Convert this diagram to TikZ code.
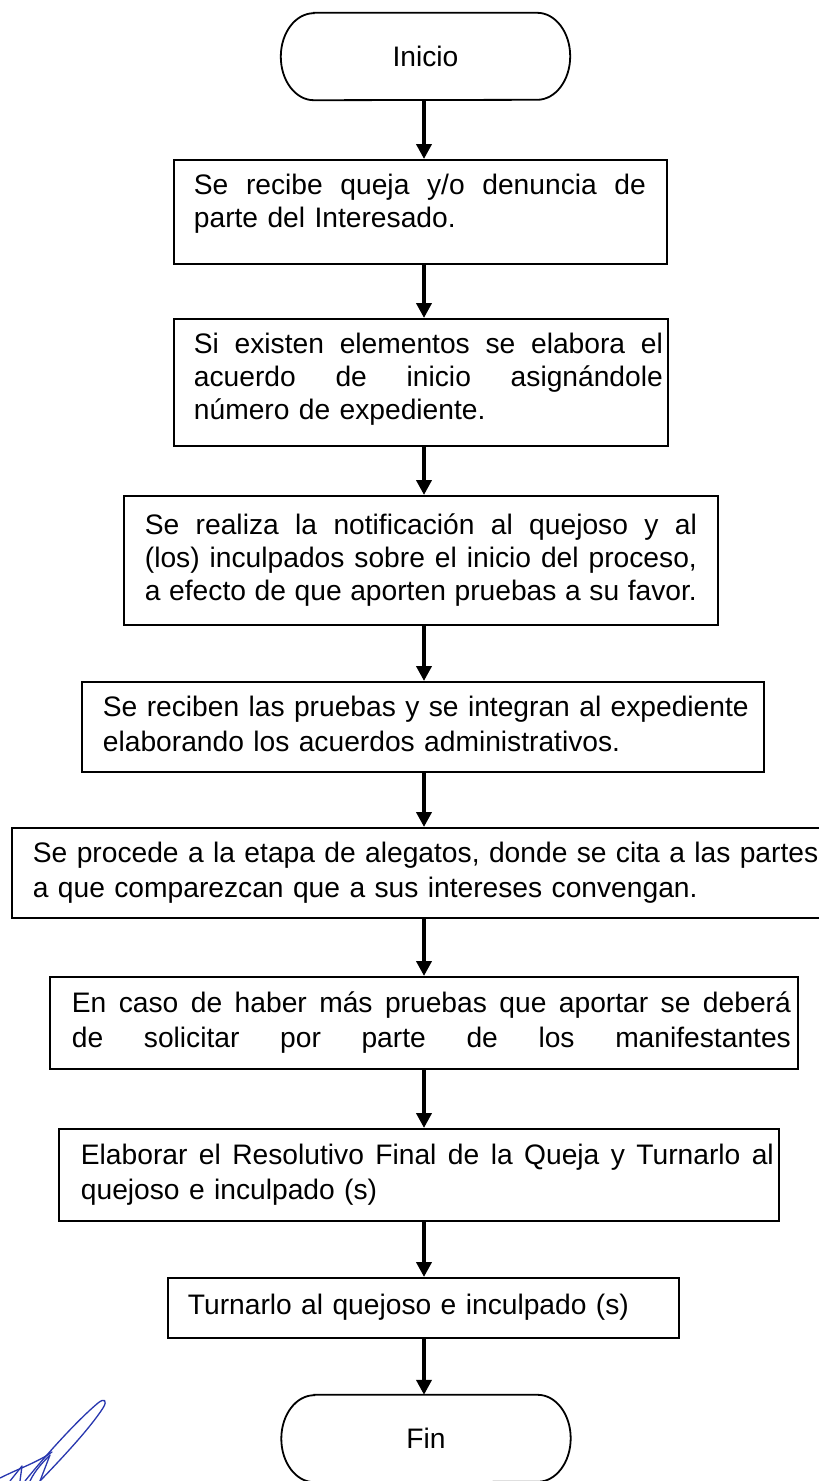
\documentclass[tikz,border=0pt]{standalone}
\usepackage{fontspec}
\setmainfont{Liberation Sans}
\usetikzlibrary{arrows.meta}
\definecolor{inkblue}{RGB}{40,55,175}
\tikzset{
  box/.style={draw, line width=1.8pt, anchor=north west, inner xsep=0pt, inner ysep=0pt,
    align=left, font=\fontsize{28.2pt}{33pt}\selectfont},
  boxw/.style={box, font=\fontsize{28.2pt}{35pt}\selectfont},
  termnode/.style={minimum width=289pt, minimum height=87pt, inner sep=0pt,
    font=\fontsize{28.2pt}{33pt}\selectfont},
  termline/.style={line width=1.8pt},
  arr/.style={line width=4.5pt, -{Triangle[length=15pt,width=15pt]}},
  sig/.style={inkblue, line width=1.3pt, line cap=round, line join=round}
}
% justified line of a given width (words separated by \hfill)
\newcommand\jl[2]{\leavevmode\hbox to #1{\strut#2}}
% natural line
\newcommand\nl[1]{\mbox{\strut#1}}
\newcommand\termoutline[1]{%
  \draw[termline] ([xshift=33pt]#1.north west) -- ([xshift=-33pt]#1.north east)
    arc[start angle=90, end angle=-90, x radius=33pt, y radius=43.5pt]
    -- ([xshift=33pt]#1.south west)
    arc[start angle=270, end angle=90, x radius=33pt, y radius=43.5pt] -- cycle;}
\begin{document}
\begin{tikzpicture}[x=1pt, y=-1pt]
\useasboundingbox (0,0) rectangle (819,1481);
\fill[white] (0,0) rectangle (819,1481);

\node[termnode] (inicio) at (425.5,56.5) {Inicio};
\termoutline{inicio}

\node[box, minimum width=493pt, minimum height=104pt, text width=453pt] (b1) at (173,159)
  {\jl{452pt}{Se\hfill recibe\hfill queja\hfill y/o\hfill denuncia\hfill de}\\
   \nl{parte del Interesado.\rule[-24pt]{0pt}{24pt}}};

\node[box, minimum width=494pt, minimum height=127pt, text width=454pt] (b2) at (173,318)
  {\jl{469pt}{Si\hfill existen\hfill elementos\hfill se\hfill elabora\hfill el}\\
   \jl{469pt}{acuerdo\hfill de\hfill inicio\hfill asignándole}\\
   \nl{número de expediente.\rule[-15pt]{0pt}{15pt}}};

\node[box, minimum width=594pt, minimum height=129pt, text width=552pt] (b3) at (123,495)
  {\jl{552pt}{Se\hfill realiza\hfill la\hfill notificación\hfill al\hfill quejoso\hfill y\hfill al}\\
   \jl{552pt}{(los)\hfill inculpados\hfill sobre\hfill el\hfill inicio\hfill del\hfill proceso,}\\
   \jl{552pt}{a\hfill efecto\hfill de\hfill que\hfill aporten\hfill pruebas\hfill a\hfill su\hfill favor.}};

\node[boxw, minimum width=682pt, minimum height=90pt, text width=640pt] (b4) at (81,681)
  {\nl{Se reciben las pruebas y se integran al expediente}\\
   \nl{elaborando los acuerdos administrativos.}};

\node[boxw, minimum width=811pt, minimum height=90pt, text width=769pt] (b5) at (11,827)
  {\nl{Se procede a la etapa de alegatos, donde se cita a las partes}\\
   \nl{a que comparezcan que a sus intereses convengan.}};

\node[boxw, minimum width=748pt, minimum height=92pt, text width=704pt] (b6) at (49,976)
  {\jl{719pt}{En\hfill caso\hfill de\hfill haber\hfill más\hfill pruebas\hfill que\hfill aportar\hfill se\hfill deberá}\\
   \jl{719pt}{de\hfill solicitar\hfill por\hfill parte\hfill de\hfill los\hfill manifestantes}};

\node[boxw, minimum width=720pt, minimum height=92pt, text width=676pt] (b7) at (58,1128)
  {\jl{693pt}{Elaborar\hfill el\hfill Resolutivo\hfill Final\hfill de\hfill la\hfill Queja\hfill y\hfill Turnarlo\hfill al}\\
   \nl{quejoso e inculpado (s)}};

\node[box, minimum width=511pt, minimum height=60pt, text width=471pt] (b8) at (167,1277)
  {\nl{Turnarlo al quejoso e inculpado (s)}};

\node[termnode] (fin) at (426,1438.5) {Fin};
\termoutline{fin}

\coordinate (ax) at (424,0);
\draw[arr] (inicio.south -| ax) -- (b1.north -| ax);
\draw[arr] (b1.south -| ax) -- (b2.north -| ax);
\draw[arr] (b2.south -| ax) -- (b3.north -| ax);
\draw[arr] (b3.south -| ax) -- (b4.north -| ax);
\draw[arr] (b4.south -| ax) -- (b5.north -| ax);
\draw[arr] (b5.south -| ax) -- (b6.north -| ax);
\draw[arr] (b6.south -| ax) -- (b7.north -| ax);
\draw[arr] (b7.south -| ax) -- (b8.north -| ax);
\draw[arr] (b8.south -| ax) -- (fin.north -| ax);

% signature
\draw[sig] (25,1481) .. controls (50,1450) and (80,1418) .. (98,1403)
  .. controls (104,1398) and (108,1400) .. (103,1408)
  .. controls (90,1428) and (65,1455) .. (40,1481);
\draw[sig] (0,1478) .. controls (20,1468) and (38,1462) .. (52,1452);
\draw[sig] (10,1481) -- (22,1466) -- (20,1481);
\draw[sig] (30,1481) .. controls (35,1470) and (45,1460) .. (50,1455) -- (40,1481);
\end{tikzpicture}
\end{document}
